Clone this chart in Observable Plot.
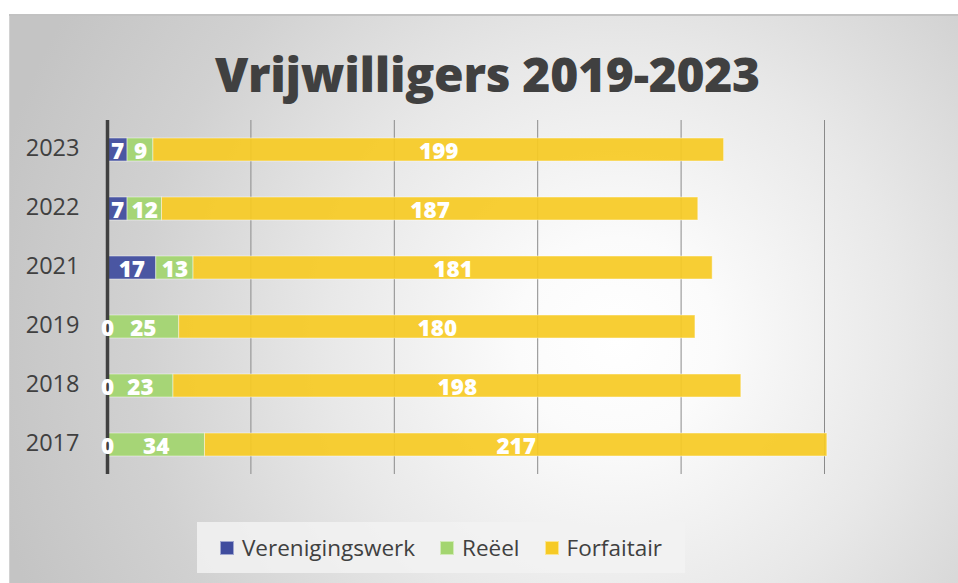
<!DOCTYPE html>
<html><head><meta charset="utf-8">
<script src="https://cdn.jsdelivr.net/npm/d3@7"></script>
<script src="https://cdn.jsdelivr.net/npm/@observablehq/plot@0.6"></script>
<style>
body{margin:0;background:#fff;width:958px;height:583px;overflow:hidden;font-family:"Open Sans",sans-serif}
#frame{position:absolute;left:9px;top:14px;width:949px;height:569px;
  background:radial-gradient(circle at 64% 57%, #ffffff 0px, #fbfbfb 100px, #e8e8e8 290px, #d1d1d1 480px, #c4c4c4 640px);
  box-shadow:inset 0 2px 0 #c2c2c2, inset 1px 0 0 #d2d2d2}
#title{position:absolute;left:4px;width:949px;top:27px;text-align:center;font-weight:800;font-size:48px;color:#404040;letter-spacing:-0.3px}
#chart{position:absolute;left:0;top:86px}
#legend{position:absolute;left:188px;top:508px;width:488px;height:51px;background:rgba(242,242,242,0.85);display:flex;align-items:center;justify-content:center;gap:25px;font-size:22.5px;color:#404040}
#legend .it{display:flex;align-items:center;gap:8px}
#legend .sw{width:14px;height:14px;box-sizing:border-box}
</style></head>
<body>
<div id="frame">
  <div id="title">Vrijwilligers 2019-2023</div>
  <div id="chart"></div>
  <div id="legend"></div>
</div>
<script>
const years = ["2023","2022","2021","2019","2018","2017"];
const series = ["Verenigingswerk","Reëel","Forfaitair"];
const verenigingswerk = [7,7,17,0,0,0];
const reeel = [9,12,13,25,23,34];
const forfaitair = [199,187,181,180,198,217];
const colors = ["#3f4c9e","#a3d56f","#f6ca25"];
const gridTicks = [50,100,150,200,250];

const values = [verenigingswerk, reeel, forfaitair];
const data = [];
years.forEach((y,i)=>series.forEach((s,j)=>data.push({year:y, series:s, value:values[j][i]})));

const chart = Plot.plot({
  width: 949, height: 390,
  marginLeft: 98, marginRight: 134, marginTop: 20, marginBottom: 16,
  x: {domain:[0,250], axis:null},
  y: {domain: years, paddingInner: 0.61, paddingOuter: 0.29, axis:null},
  color: {domain: series, range: colors},
  style: {background:"transparent", fontFamily:"'Open Sans', sans-serif", color:"#404040", overflow:"visible"},
  marks: [
    Plot.gridX(gridTicks, {stroke:"#8a8a8a", strokeOpacity:1, strokeWidth:1}),
    Plot.barX(data, Plot.stackX({x:"value", y:"year", z:"series", fill:"series", fillOpacity:0.93, stroke:"#fff", strokeOpacity:0.45, strokeWidth:1})),
    Plot.ruleX([0], {stroke:"#404040", strokeWidth:3.5}),
    Plot.axisY({tickSize:0, tickPadding:28, fontSize:23.5, fill:"#404040", label:null, dy:-2}),
    Plot.text(data, Plot.stackX({x:"value", y:"year", z:"series", text:d=>String(d.value), fill:"white", fontWeight:800, fontSize:22.5, dy:2}))
  ]
});
document.getElementById("chart").appendChild(chart);

const leg = document.getElementById("legend");
series.forEach((s,i)=>{
  const it = document.createElement("div"); it.className="it";
  const sw = document.createElement("div"); sw.className="sw";
  sw.style.background = colors[i]; sw.style.border = "1px solid rgba(255,255,255,0.5)";
  const t = document.createElement("span"); t.textContent = s;
  it.appendChild(sw); it.appendChild(t); leg.appendChild(it);
});
</script>
</body></html>
